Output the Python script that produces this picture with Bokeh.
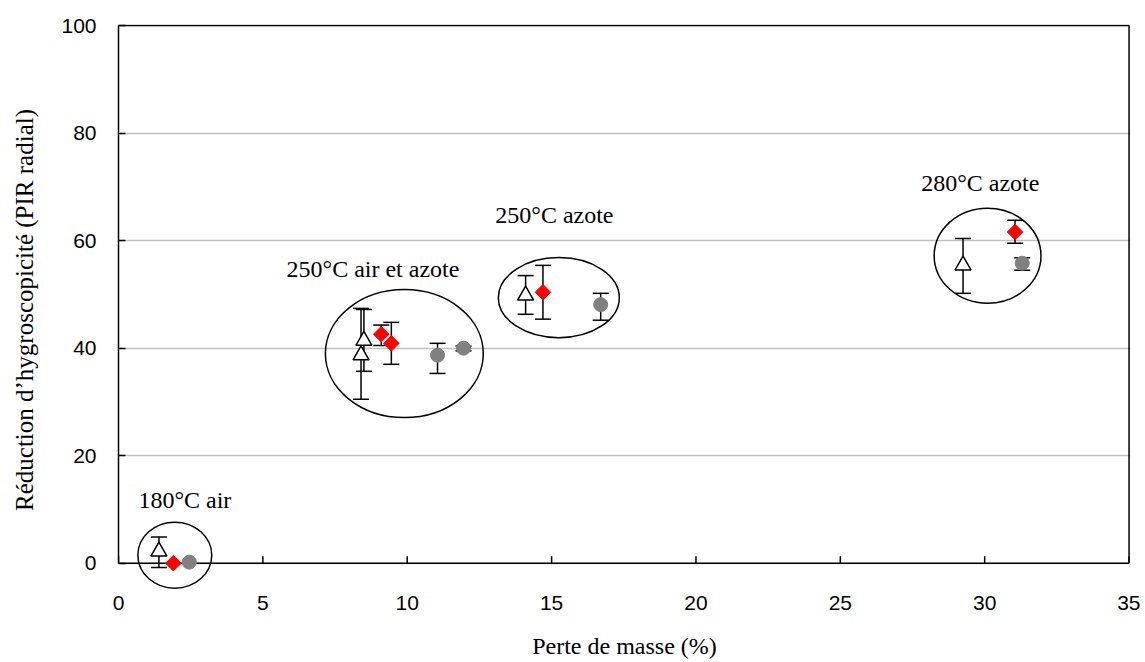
from bokeh.plotting import figure
from bokeh.models import (Range1d, LinearAxis, FixedTicker, Whisker, TeeHead,
                          ColumnDataSource, Grid)
from bokeh.core.properties import value
from bokeh.embed import file_html
from bokeh.resources import INLINE

# ---- data ----
tri_x = [1.4, 8.4, 8.5, 14.1, 29.25]
tri_y = [2.2, 38.7, 41.4, 49.8, 55.4]
tri_lo = [-0.8, 30.5, 35.7, 46.3, 50.2]
tri_hi = [4.9, 47.4, 47.2, 53.5, 60.4]

dia_x = [1.9, 9.1, 9.45, 14.7, 31.05]
dia_y = [0.0, 42.6, 40.9, 50.4, 61.6]
dia_lo = [0.0, 40.5, 37.0, 45.4, 59.5]
dia_hi = [0.0, 44.3, 44.8, 55.4, 63.8]

cir_x = [2.45, 11.05, 11.95, 16.7, 31.3]
cir_y = [0.2, 38.7, 40.0, 48.1, 55.8]
cir_lo = [0.2, 35.3, 39.5, 45.2, 54.5]
cir_hi = [0.2, 40.9, 40.4, 50.2, 56.8]

ell_x = [1.95, 9.9, 15.25, 30.1]
ell_y = [1.5, 39.0, 49.4, 57.2]
ell_w = [2.56, 5.47, 4.19, 3.7]
ell_h = [12.3, 23.8, 14.9, 17.7]

lab_text = ["180°C air", "250°C air et azote", "250°C azote", "280°C azote"]
lab_x = [0.69, 5.82, 13.05, 27.8]
lab_y = [11.7, 54.8, 64.7, 70.8]

x_ticks = [0, 5, 10, 15, 20, 25, 30, 35]
y_ticks = [0, 20, 40, 60, 80, 100]
X_MIN, X_MAX = 0, 35
Y_MIN, Y_MAX = 0, 100

SERIF = "Liberation Serif"
SANS = "Liberation Sans"

p = figure(width=1140, height=662, output_backend="svg", toolbar_location=None,
           x_range=Range1d(X_MIN, X_MAX + 0.05), y_range=Range1d(-6, Y_MAX + 0.2),
           min_border_left=118, min_border_right=10, min_border_top=24,
           min_border_bottom=67, x_axis_type=None, y_axis_type=None)
p.outline_line_color = None
p.background_fill_color = "white"
p.border_fill_color = "white"

# grid
p.add_layout(Grid(dimension=1, ticker=FixedTicker(ticks=y_ticks),
                  grid_line_color="#c0c0c0", grid_line_width=1.5,
                  bounds=(X_MIN, X_MAX)))

# bottom axis: tick labels and title (in the panel below the frame)
xlab = LinearAxis(ticker=FixedTicker(ticks=x_ticks),
                  axis_label="Perte de masse (%)")
xlab.axis_line_color = None
xlab.major_tick_line_color = None
xlab.minor_tick_line_color = None
xlab.major_tick_in = 0
xlab.major_tick_out = 0
xlab.major_label_standoff = 0
xlab.major_label_text_font = SANS
xlab.major_label_text_font_size = "21px"
xlab.major_label_text_color = "black"
xlab.axis_label_text_font = SERIF
xlab.axis_label_text_font_size = "24px"
xlab.axis_label_text_font_style = "normal"
xlab.axis_label_text_color = "black"
xlab.axis_label_standoff = 20
p.add_layout(xlab, "below")

# left axis
yax = LinearAxis(ticker=FixedTicker(ticks=y_ticks), bounds=(Y_MIN, Y_MAX),
                 axis_label="Réduction d’hygroscopicité (PIR radial)")
yax.axis_line_width = 1.5
yax.axis_line_color = "black"
yax.major_tick_in = 7
yax.major_tick_out = 0
yax.major_tick_line_width = 1.5
yax.minor_tick_line_color = None
yax.major_label_standoff = 22
yax.major_label_text_font = SANS
yax.major_label_text_font_size = "21px"
yax.major_label_text_color = "black"
yax.axis_label_text_font = SERIF
yax.axis_label_text_font_size = "25px"
yax.axis_label_text_font_style = "normal"
yax.axis_label_text_color = "black"
yax.axis_label_standoff = 20
p.add_layout(yax, "left")

# frame lines: x axis at y=0, top and right borders, inward x ticks
tick_len = 7 / 5.38
p.segment(x0=[X_MIN, X_MIN, X_MAX], y0=[Y_MIN, Y_MAX, Y_MIN],
          x1=[X_MAX, X_MAX, X_MAX], y1=[Y_MIN, Y_MAX, Y_MAX],
          line_color="black", line_width=1.5)
p.segment(x0=x_ticks, y0=[Y_MIN] * len(x_ticks), x1=x_ticks,
          y1=[Y_MIN + tick_len] * len(x_ticks),
          line_color="black", line_width=1.5)

# ellipses
p.ellipse(x=ell_x, y=ell_y, width=ell_w, height=ell_h,
          fill_color=None, line_color="black", line_width=1.5)

# error bars
def add_whiskers(xs, lo, hi):
    keep = [i for i in range(len(xs)) if hi[i] > lo[i]]
    src = ColumnDataSource(dict(base=[xs[i] for i in keep],
                                lower=[lo[i] for i in keep],
                                upper=[hi[i] for i in keep]))
    w = Whisker(base="base", lower="lower", upper="upper", source=src,
                dimension="height", line_color="black", line_width=1.5,
                upper_head=TeeHead(size=16, line_width=1.5, line_color="black"),
                lower_head=TeeHead(size=16, line_width=1.5, line_color="black"),
                level="underlay")
    p.add_layout(w)

add_whiskers(cir_x, cir_lo, cir_hi)
add_whiskers(dia_x, dia_lo, dia_hi)
add_whiskers(tri_x, tri_lo, tri_hi)

p.scatter(cir_x, cir_y, marker="circle", size=14, fill_color="#808080",
          line_color="#808080")
p.scatter(dia_x, dia_y, marker="square", angle=0.7854, size=11,
          fill_color="#ff0000", line_color="#ff0000")
p.scatter(tri_x, tri_y, marker="triangle", size=16, fill_color="white",
          line_color="black", line_width=1.5)

# cluster labels
p.text(x=lab_x, y=lab_y, text=lab_text, text_font=value(SERIF),
       text_font_size="24px", text_align="left", text_baseline="middle",
       text_color="black")

open("out.html", "w").write(file_html(p, INLINE))
